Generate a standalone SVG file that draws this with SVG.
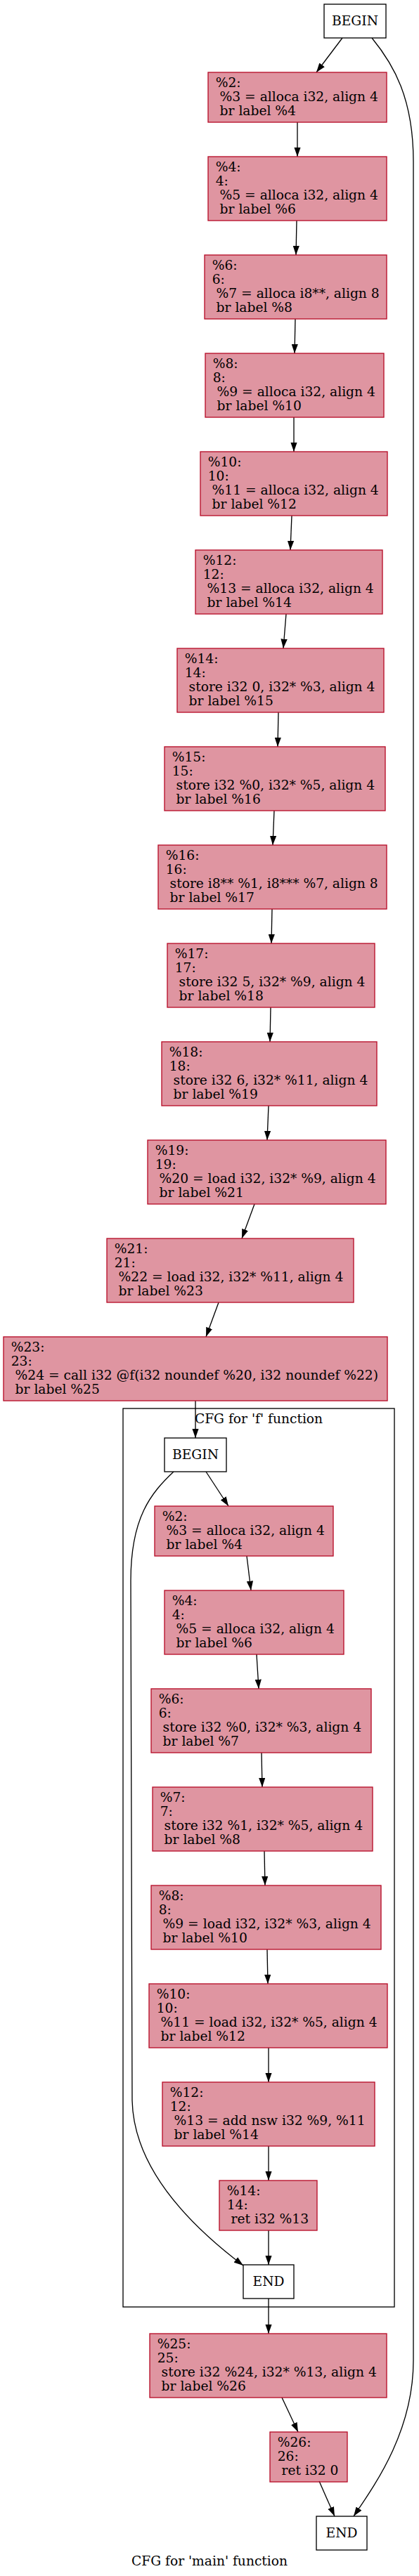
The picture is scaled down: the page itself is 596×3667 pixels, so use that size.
<svg xmlns="http://www.w3.org/2000/svg" width="596" height="3667" viewBox="0 0 596 3667">
<style>
text{font-family:"DejaVu Serif","Liberation Serif",serif;font-size:18.67px;fill:#000}
.c{text-anchor:middle}
.b rect{fill:#b70d28;fill-opacity:0.44;stroke:#b70d28;stroke-width:1.33}
.w rect{fill:#fff;stroke:#000;stroke-width:1.33}
.cl{fill:none;stroke:#000;stroke-width:1.33}
.e path{fill:none;stroke:#000;stroke-width:1.33;marker-end:url(#ah)}
</style>
<defs>
<marker id="ah" viewBox="0 0 13.33 9.33" refX="13.33" refY="4.67" markerWidth="13.33" markerHeight="9.33" orient="auto" markerUnits="userSpaceOnUse"><path d="M0,0 L13.33,4.67 L0,9.33 z" fill="#000"/></marker>
</defs>
<rect width="596" height="3667" fill="#fff"/>

<g id="cluster_f">
<rect class="cl" x="175" y="2005" width="386" height="1279"/>
<text class="c" x="368" y="2026">CFG for 'f' function</text>
</g>

<g id="connectors" class="e">
<path d="M487,54 L450,103"/>
<path d="M529,54 C560,92 588,140 588,230 L588,3360 C588,3460 535,3535 503,3582"/>
<path d="M423,174 L423,223"/>
<path d="M422,314 L421,363"/>
<path d="M420,454 L419,503"/>
<path d="M418,594 L418,643"/>
<path d="M415,734 L413,783"/>
<path d="M407,874 L403,923"/>
<path d="M396,1014 L395,1063"/>
<path d="M390,1154 L388,1203"/>
<path d="M387,1294 L386,1343"/>
<path d="M385,1434 L384,1483"/>
<path d="M382,1574 L380,1623"/>
<path d="M362,1714 L344,1763"/>
<path d="M311,1854 L293,1903"/>
<path d="M278,1994 L278,2047"/>
<path d="M293,2095 L325,2144"/>
<path d="M247,2095 C215,2125 186,2160 186,2250 L188,2990 C190,3080 260,3160 346,3225"/>
<path d="M351,2215 L357,2264"/>
<path d="M365,2355 L368,2404"/>
<path d="M372,2495 L373,2544"/>
<path d="M376,2635 L377,2684"/>
<path d="M380,2775 L381,2824"/>
<path d="M382,2915 L382,2964"/>
<path d="M382,3055 L382,3104"/>
<path d="M382,3175 L382,3224"/>
<path d="M382,3272 L382,3322"/>
<path d="M401,3413 L424,3462"/>
<path d="M454,3532 L476,3582"/>
</g>

<g id="main_begin" class="w"><rect x="461" y="6" width="88" height="48"/><text class="c" x="505" y="35.5">BEGIN</text></g>
<g id="main_2" class="b"><rect x="296" y="103" width="254" height="71"/><text x="306.7" y="124">%2:</text><text x="312.6" y="144">%3 = alloca i32, align 4</text><text x="312.6" y="164">br label %4</text></g>
<g id="main_4" class="b"><rect x="296" y="223" width="254" height="91"/><text x="306.7" y="244">%4:</text><text x="306.7" y="264">4:</text><text x="312.6" y="284">%5 = alloca i32, align 4</text><text x="312.6" y="304">br label %6</text></g>
<g id="main_6" class="b"><rect x="291" y="363" width="259" height="91"/><text x="301.7" y="384">%6:</text><text x="301.7" y="404">6:</text><text x="307.6" y="424">%7 = alloca i8**, align 8</text><text x="307.6" y="444">br label %8</text></g>
<g id="main_8" class="b"><rect x="292" y="503" width="254" height="91"/><text x="302.7" y="524">%8:</text><text x="302.7" y="544">8:</text><text x="308.6" y="564">%9 = alloca i32, align 4</text><text x="308.6" y="584">br label %10</text></g>
<g id="main_10" class="b"><rect x="285" y="643" width="266" height="91"/><text x="295.7" y="664">%10:</text><text x="295.7" y="684">10:</text><text x="301.6" y="704">%11 = alloca i32, align 4</text><text x="301.6" y="724">br label %12</text></g>
<g id="main_12" class="b"><rect x="278" y="783" width="266" height="91"/><text x="288.7" y="804">%12:</text><text x="288.7" y="824">12:</text><text x="294.6" y="844">%13 = alloca i32, align 4</text><text x="294.6" y="864">br label %14</text></g>
<g id="main_14" class="b"><rect x="252" y="923" width="294" height="91"/><text x="262.7" y="944">%14:</text><text x="262.7" y="964">14:</text><text x="268.6" y="984">store i32 0, i32* %3, align 4</text><text x="268.6" y="1004">br label %15</text></g>
<g id="main_15" class="b"><rect x="234" y="1063" width="314" height="91"/><text x="244.7" y="1084">%15:</text><text x="244.7" y="1104">15:</text><text x="250.6" y="1124">store i32 %0, i32* %5, align 4</text><text x="250.6" y="1144">br label %16</text></g>
<g id="main_16" class="b"><rect x="225" y="1203" width="325" height="91"/><text x="235.7" y="1224">%16:</text><text x="235.7" y="1244">16:</text><text x="241.6" y="1264">store i8** %1, i8*** %7, align 8</text><text x="241.6" y="1284">br label %17</text></g>
<g id="main_17" class="b"><rect x="238" y="1343" width="295" height="91"/><text x="248.7" y="1364">%17:</text><text x="248.7" y="1384">17:</text><text x="254.6" y="1404">store i32 5, i32* %9, align 4</text><text x="254.6" y="1424">br label %18</text></g>
<g id="main_18" class="b"><rect x="230" y="1483" width="306" height="91"/><text x="240.7" y="1504">%18:</text><text x="240.7" y="1524">18:</text><text x="246.6" y="1544">store i32 6, i32* %11, align 4</text><text x="246.6" y="1564">br label %19</text></g>
<g id="main_19" class="b"><rect x="210" y="1623" width="339" height="91"/><text x="220.7" y="1644">%19:</text><text x="220.7" y="1664">19:</text><text x="226.6" y="1684">%20 = load i32, i32* %9, align 4</text><text x="226.6" y="1704">br label %21</text></g>
<g id="main_21" class="b"><rect x="152" y="1763" width="351" height="91"/><text x="162.7" y="1784">%21:</text><text x="162.7" y="1804">21:</text><text x="168.6" y="1824">%22 = load i32, i32* %11, align 4</text><text x="168.6" y="1844">br label %23</text></g>
<g id="main_23" class="b"><rect x="5" y="1903" width="546" height="91"/><text x="15.7" y="1924">%23:</text><text x="15.7" y="1944">23:</text><text x="21.6" y="1964">%24 = call i32 @f(i32 noundef %20, i32 noundef %22)</text><text x="21.6" y="1984">br label %25</text></g>

<g id="f_begin" class="w"><rect x="234" y="2047" width="88" height="48"/><text class="c" x="278" y="2076.5">BEGIN</text></g>
<g id="f_2" class="b"><rect x="220" y="2144" width="254" height="71"/><text x="230.7" y="2165">%2:</text><text x="236.6" y="2185">%3 = alloca i32, align 4</text><text x="236.6" y="2205">br label %4</text></g>
<g id="f_4" class="b"><rect x="234" y="2264" width="255" height="91"/><text x="244.7" y="2285">%4:</text><text x="244.7" y="2305">4:</text><text x="250.6" y="2325">%5 = alloca i32, align 4</text><text x="250.6" y="2345">br label %6</text></g>
<g id="f_6" class="b"><rect x="215" y="2404" width="313" height="91"/><text x="225.7" y="2425">%6:</text><text x="225.7" y="2445">6:</text><text x="231.6" y="2465">store i32 %0, i32* %3, align 4</text><text x="231.6" y="2485">br label %7</text></g>
<g id="f_7" class="b"><rect x="217" y="2544" width="313" height="91"/><text x="227.7" y="2565">%7:</text><text x="227.7" y="2585">7:</text><text x="233.6" y="2605">store i32 %1, i32* %5, align 4</text><text x="233.6" y="2625">br label %8</text></g>
<g id="f_8" class="b"><rect x="215" y="2684" width="327" height="91"/><text x="225.7" y="2705">%8:</text><text x="225.7" y="2725">8:</text><text x="231.6" y="2745">%9 = load i32, i32* %3, align 4</text><text x="231.6" y="2765">br label %10</text></g>
<g id="f_10" class="b"><rect x="212" y="2824" width="339" height="91"/><text x="222.7" y="2845">%10:</text><text x="222.7" y="2865">10:</text><text x="228.6" y="2885">%11 = load i32, i32* %5, align 4</text><text x="228.6" y="2905">br label %12</text></g>
<g id="f_12" class="b"><rect x="231" y="2964" width="302" height="91"/><text x="241.7" y="2985">%12:</text><text x="241.7" y="3005">12:</text><text x="247.6" y="3025">%13 = add nsw i32 %9, %11</text><text x="247.6" y="3045">br label %14</text></g>
<g id="f_14" class="b"><rect x="312" y="3104" width="139" height="71"/><text x="322.7" y="3125">%14:</text><text x="322.7" y="3145">14:</text><text x="328.6" y="3165">ret i32 %13</text></g>
<g id="f_end" class="w"><rect x="346" y="3224" width="72" height="48"/><text class="c" x="382" y="3253.5">END</text></g>

<g id="main_25" class="b"><rect x="213" y="3322" width="337" height="91"/><text x="223.7" y="3343">%25:</text><text x="223.7" y="3363">25:</text><text x="229.6" y="3383">store i32 %24, i32* %13, align 4</text><text x="229.6" y="3403">br label %26</text></g>
<g id="main_26" class="b"><rect x="384" y="3462" width="110" height="71"/><text x="394.7" y="3483">%26:</text><text x="394.7" y="3503">26:</text><text x="400.6" y="3523">ret i32 0</text></g>
<g id="main_end" class="w"><rect x="450" y="3582" width="72" height="48"/><text class="c" x="486" y="3611.5">END</text></g>

<g id="graph_label"><text class="c" x="298" y="3652">CFG for 'main' function</text></g>
</svg>
